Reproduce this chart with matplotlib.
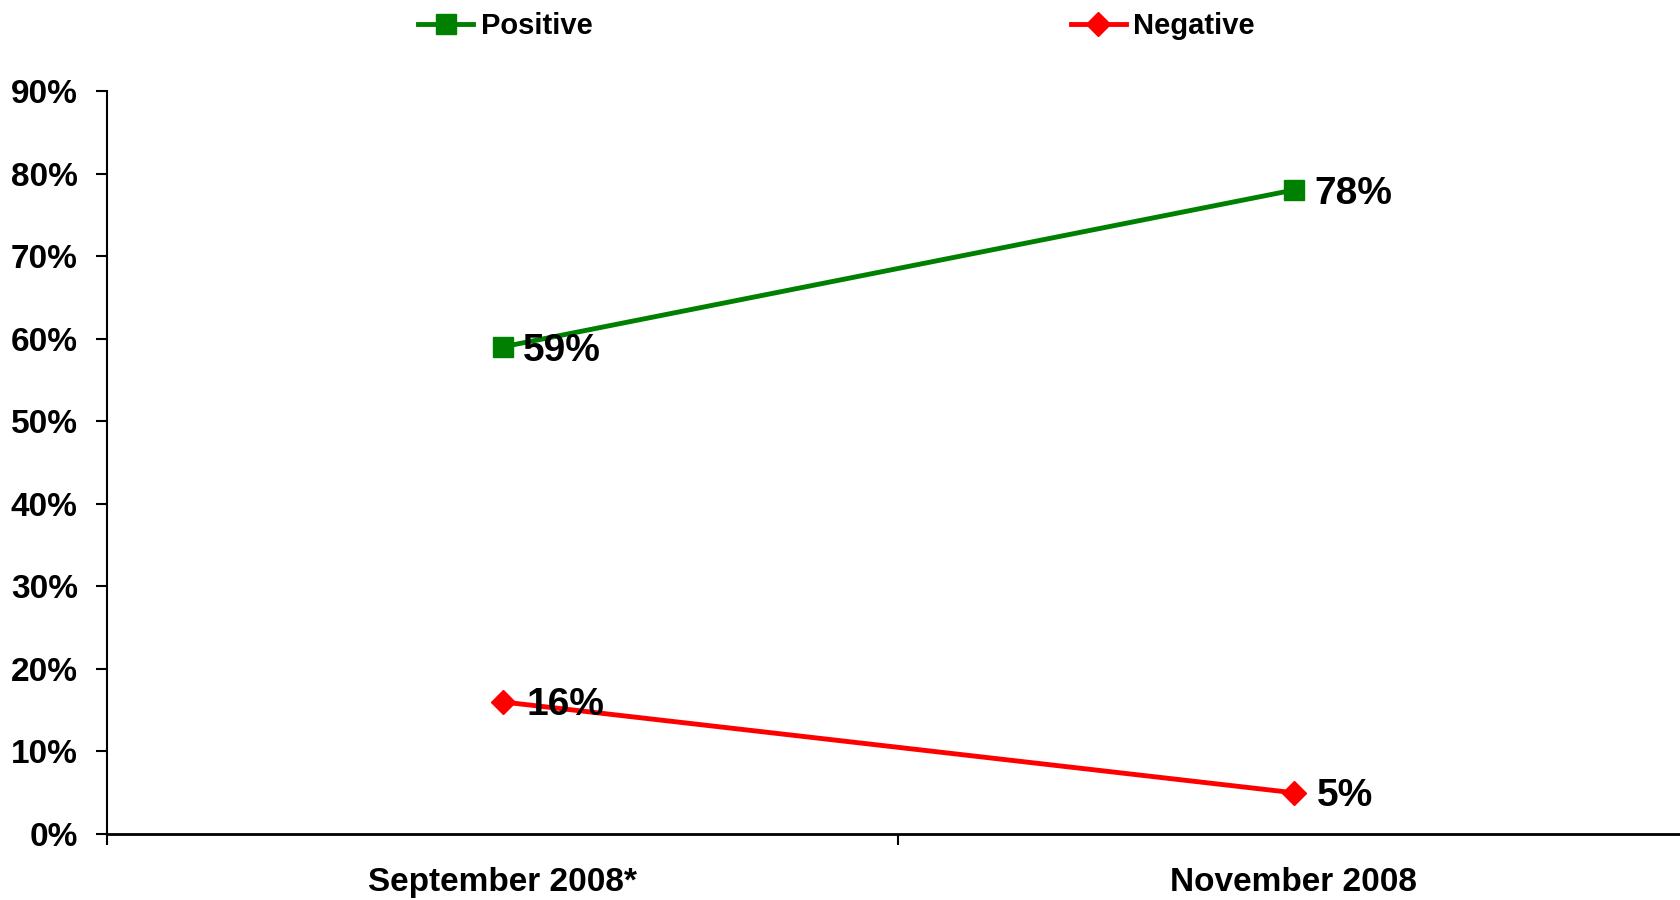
import matplotlib.pyplot as plt
from matplotlib.ticker import FixedLocator, FuncFormatter

plt.rcParams['font.family'] = ['Liberation Sans', 'DejaVu Sans']
plt.rcParams['font.weight'] = 'bold'

# data
periods = ["September 2008*", "November 2008"]
positive = [59, 78]
negative = [16, 5]
y_ticks = list(range(0, 100, 10))

fig = plt.figure(figsize=(16.81, 9), dpi=100)
ax = fig.add_axes([107 / 1681, 66 / 900, (1689 - 107) / 1681, (834 - 91) / 900])

x = list(range(len(periods)))
ax.plot(x, positive, color='#008000', lw=3.5, marker='s', ms=14.5,
        label='Positive')
ax.plot(x, negative, color='#FF0000', lw=3.5, marker='D', ms=12.5,
        label='Negative')

for xi, v in zip(x, positive):
    ax.annotate(f"{v}%", (xi, v), xytext=(15, -3), textcoords='offset points',
                fontsize=28, fontweight='bold', va='center', ha='left')
for xi, v in zip(x, negative):
    ax.annotate(f"{v}%", (xi, v), xytext=(17, -2), textcoords='offset points',
                fontsize=28, fontweight='bold', va='center', ha='left')

ax.set_xlim(-0.5, len(periods) - 0.5)
ax.set_ylim(0, 90)
ax.set_yticks(y_ticks)
ax.yaxis.set_major_formatter(FuncFormatter(lambda v, p: f"{int(v)}%"))

# boundary ticks on the category axis, labels in between
ax.xaxis.set_major_locator(FixedLocator([i - 0.5 for i in range(len(periods) + 1)]))
ax.xaxis.set_major_formatter(FuncFormatter(lambda v, p: ""))
ax.xaxis.set_minor_locator(FixedLocator(x))
ax.set_xticklabels(periods, minor=True)

ax.tick_params(axis='y', which='major', direction='out', length=8, width=1.5,
               pad=13, labelsize=24, colors='black')
ax.tick_params(axis='x', which='major', direction='out', length=8, width=1.5)
ax.tick_params(axis='x', which='minor', length=0, pad=24, labelsize=24)
for lbl in ax.get_yticklabels() + ax.get_xticklabels(minor=True):
    lbl.set_fontweight('bold')

for s in ['top', 'right']:
    ax.spines[s].set_visible(False)
ax.spines['left'].set_linewidth(1.5)
ax.spines['bottom'].set_linewidth(2)

fig.legend(loc='center left', bbox_to_anchor=(418 / 1681, 1 - 26 / 900),
           ncol=2, frameon=False, handlelength=1.9,
           handletextpad=0.25, columnspacing=16.4, borderaxespad=0,
           borderpad=0, prop={'weight': 'bold', 'size': 21})

fig.savefig('out.png', dpi=100)
